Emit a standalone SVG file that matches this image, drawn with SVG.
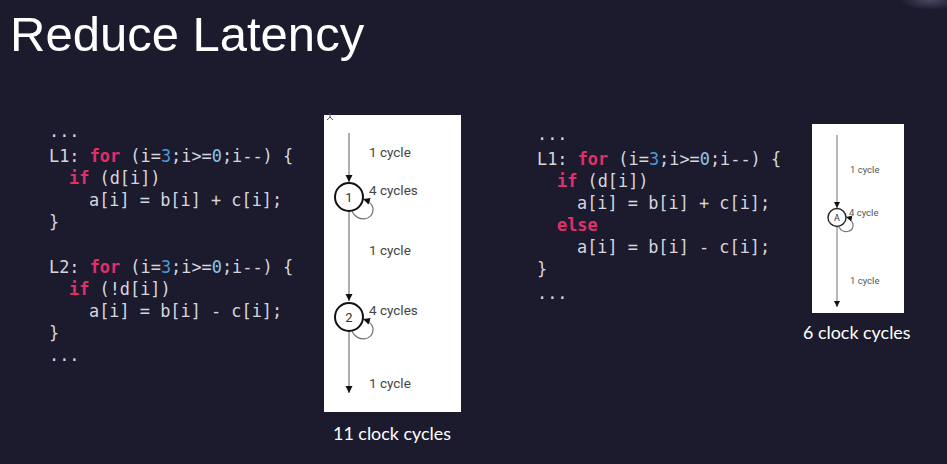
<svg xmlns="http://www.w3.org/2000/svg" width="947" height="464" viewBox="0 0 947 464">
  <defs>
    <style>
      .title { font-family: "Liberation Sans", Arial, sans-serif; font-size: 49px; fill: #ffffff; }
      .code { font-family: "DejaVu Sans Mono", "Liberation Mono", monospace; font-size: 16.9px; fill: #d6d6de; white-space: pre; }
      .kw { fill: #e0306a; font-weight: bold; }
      .n3 { fill: #4a9bd6; }
      .n0 { fill: #8cc4ea; }
      .cap { font-family: Lato, "Open Sans", sans-serif; font-size: 17.9px; fill: #ffffff; }
      .panel { fill: #ffffff; }
      .edge { stroke: #9a9a9a; stroke-width: 1.6; fill: none; }
      .edge-s { stroke: #8a8a8a; stroke-width: 1.2; fill: none; }
      .loop { stroke: #777777; stroke-width: 1.2; fill: none; }
      .node { fill: #ffffff; stroke: #111111; stroke-width: 2; }
      .node-s { fill: #ffffff; stroke: #222222; stroke-width: 1.4; }
      .nlabel { font-family: Roboto, "Liberation Sans", sans-serif; font-size: 13px; fill: #333333; text-anchor: middle; }
      .nlabel-s { font-family: Roboto, "Liberation Sans", sans-serif; font-size: 9px; fill: #333333; text-anchor: middle; }
      .elabel { font-family: Roboto, "Liberation Sans", sans-serif; font-size: 13.5px; fill: #444444; }
      .elabel-s { font-family: Roboto, "Liberation Sans", sans-serif; font-size: 9.5px; fill: #555555; }
    </style>
    <marker id="arrow" viewBox="0 0 10 10" refX="10" refY="5" markerWidth="7" markerHeight="8" orient="auto" markerUnits="userSpaceOnUse">
      <path d="M0,0 L10,5 L0,10 z" fill="#111111"/>
    </marker>
    <marker id="arrow-s" viewBox="0 0 10 10" refX="10" refY="5" markerWidth="6" markerHeight="6" orient="auto" markerUnits="userSpaceOnUse">
      <path d="M0,0 L10,5 L0,10 z" fill="#111111"/>
    </marker>
    <radialGradient id="glow" cx="0.5" cy="0.5" r="0.5">
      <stop offset="0" stop-color="#6a6f86" stop-opacity="0.55"/>
      <stop offset="1" stop-color="#6a6f86" stop-opacity="0"/>
    </radialGradient>
  </defs>

  <!-- slide background -->
  <rect x="0" y="0" width="947" height="464" fill="#1c1b2e"/>
  <ellipse cx="930" cy="0" rx="30" ry="10" fill="url(#glow)"/>

  <text class="title" x="10" y="51">Reduce Latency</text>

  <!-- two separate loops -->
  <g id="code-left">
    <text class="code" x="49" y="137">...</text>
    <text class="code" x="49" y="162">L1: <tspan class="kw">for</tspan> (i=<tspan class="n3">3</tspan>;i&gt;=<tspan class="n0">0</tspan>;i--) {</text>
    <text class="code" x="69" y="184"><tspan class="kw">if</tspan> (d[i])</text>
    <text class="code" x="89" y="206">a[i] = b[i] + c[i];</text>
    <text class="code" x="49" y="228">}</text>
    <text class="code" x="49" y="273">L2: <tspan class="kw">for</tspan> (i=<tspan class="n3">3</tspan>;i&gt;=<tspan class="n0">0</tspan>;i--) {</text>
    <text class="code" x="69" y="295"><tspan class="kw">if</tspan> (!d[i])</text>
    <text class="code" x="89" y="317">a[i] = b[i] - c[i];</text>
    <text class="code" x="49" y="339">}</text>
    <text class="code" x="49" y="361">...</text>
  </g>

  <!-- merged loop -->
  <g id="code-right">
    <text class="code" x="537" y="140">...</text>
    <text class="code" x="537" y="165">L1: <tspan class="kw">for</tspan> (i=<tspan class="n3">3</tspan>;i&gt;=<tspan class="n0">0</tspan>;i--) {</text>
    <text class="code" x="557" y="187"><tspan class="kw">if</tspan> (d[i])</text>
    <text class="code" x="577" y="209">a[i] = b[i] + c[i];</text>
    <text class="code" x="557" y="231"><tspan class="kw">else</tspan></text>
    <text class="code" x="577" y="253">a[i] = b[i] - c[i];</text>
    <text class="code" x="537" y="275">}</text>
    <text class="code" x="537" y="299">...</text>
  </g>

  <!-- white panels behind the schedules -->
  <g id="panel-left">
    <rect class="panel" x="324" y="115" width="137" height="297"/>
    <path d="M330,113 L330,117 M327,120 L330,117 L333,120" stroke="#555555" stroke-width="1" fill="none"/>
  </g>
  <g id="panel-right">
    <rect class="panel" x="812" y="124" width="92" height="189"/>
  </g>

  <g id="connectors">
    <line class="edge" x1="349" y1="133" x2="349" y2="182" marker-end="url(#arrow)"/>
    <line class="edge" x1="349" y1="211" x2="349" y2="301" marker-end="url(#arrow)"/>
    <line class="edge" x1="349" y1="331" x2="349" y2="393" marker-end="url(#arrow)"/>
    <path class="loop" d="M352,211 C356,222 374,222 373,208 C372,204 369,201 363,199" marker-end="url(#arrow)"/>
    <path class="loop" d="M352,331 C356,342 374,342 373,328 C372,324 369,321 363,319" marker-end="url(#arrow)"/>

    <line class="edge-s" x1="837" y1="135" x2="837" y2="208" marker-end="url(#arrow-s)"/>
    <line class="edge-s" x1="837" y1="227" x2="837" y2="307" marker-end="url(#arrow-s)"/>
    <path class="loop" d="M839,227 C842,234 854,233 853,224 C852,221 850,218 846,217" marker-end="url(#arrow-s)"/>
  </g>

  <g id="node-1">
    <circle class="node" cx="349" cy="197" r="14"/>
    <text class="nlabel" x="349" y="202">1</text>
  </g>
  <g id="node-2">
    <circle class="node" cx="349" cy="317" r="14"/>
    <text class="nlabel" x="349" y="322">2</text>
  </g>
  <g id="node-A">
    <circle class="node-s" cx="837" cy="217.5" r="9"/>
    <text class="nlabel-s" x="837" y="220.5">A</text>
  </g>

  <g id="labels-left">
    <text class="elabel" x="369" y="157">1 cycle</text>
    <text class="elabel" x="369" y="195">4 cycles</text>
    <text class="elabel" x="369" y="255">1 cycle</text>
    <text class="elabel" x="369" y="315">4 cycles</text>
    <text class="elabel" x="369" y="388">1 cycle</text>
  </g>
  <g id="labels-right">
    <text class="elabel-s" x="850" y="173">1 cycle</text>
    <text class="elabel-s" x="849" y="216">4 cycle</text>
    <text class="elabel-s" x="850" y="284">1 cycle</text>
  </g>

  <text class="cap" x="333" y="440">11 clock cycles</text>
  <text class="cap" x="803" y="339">6 clock cycles</text>
</svg>
